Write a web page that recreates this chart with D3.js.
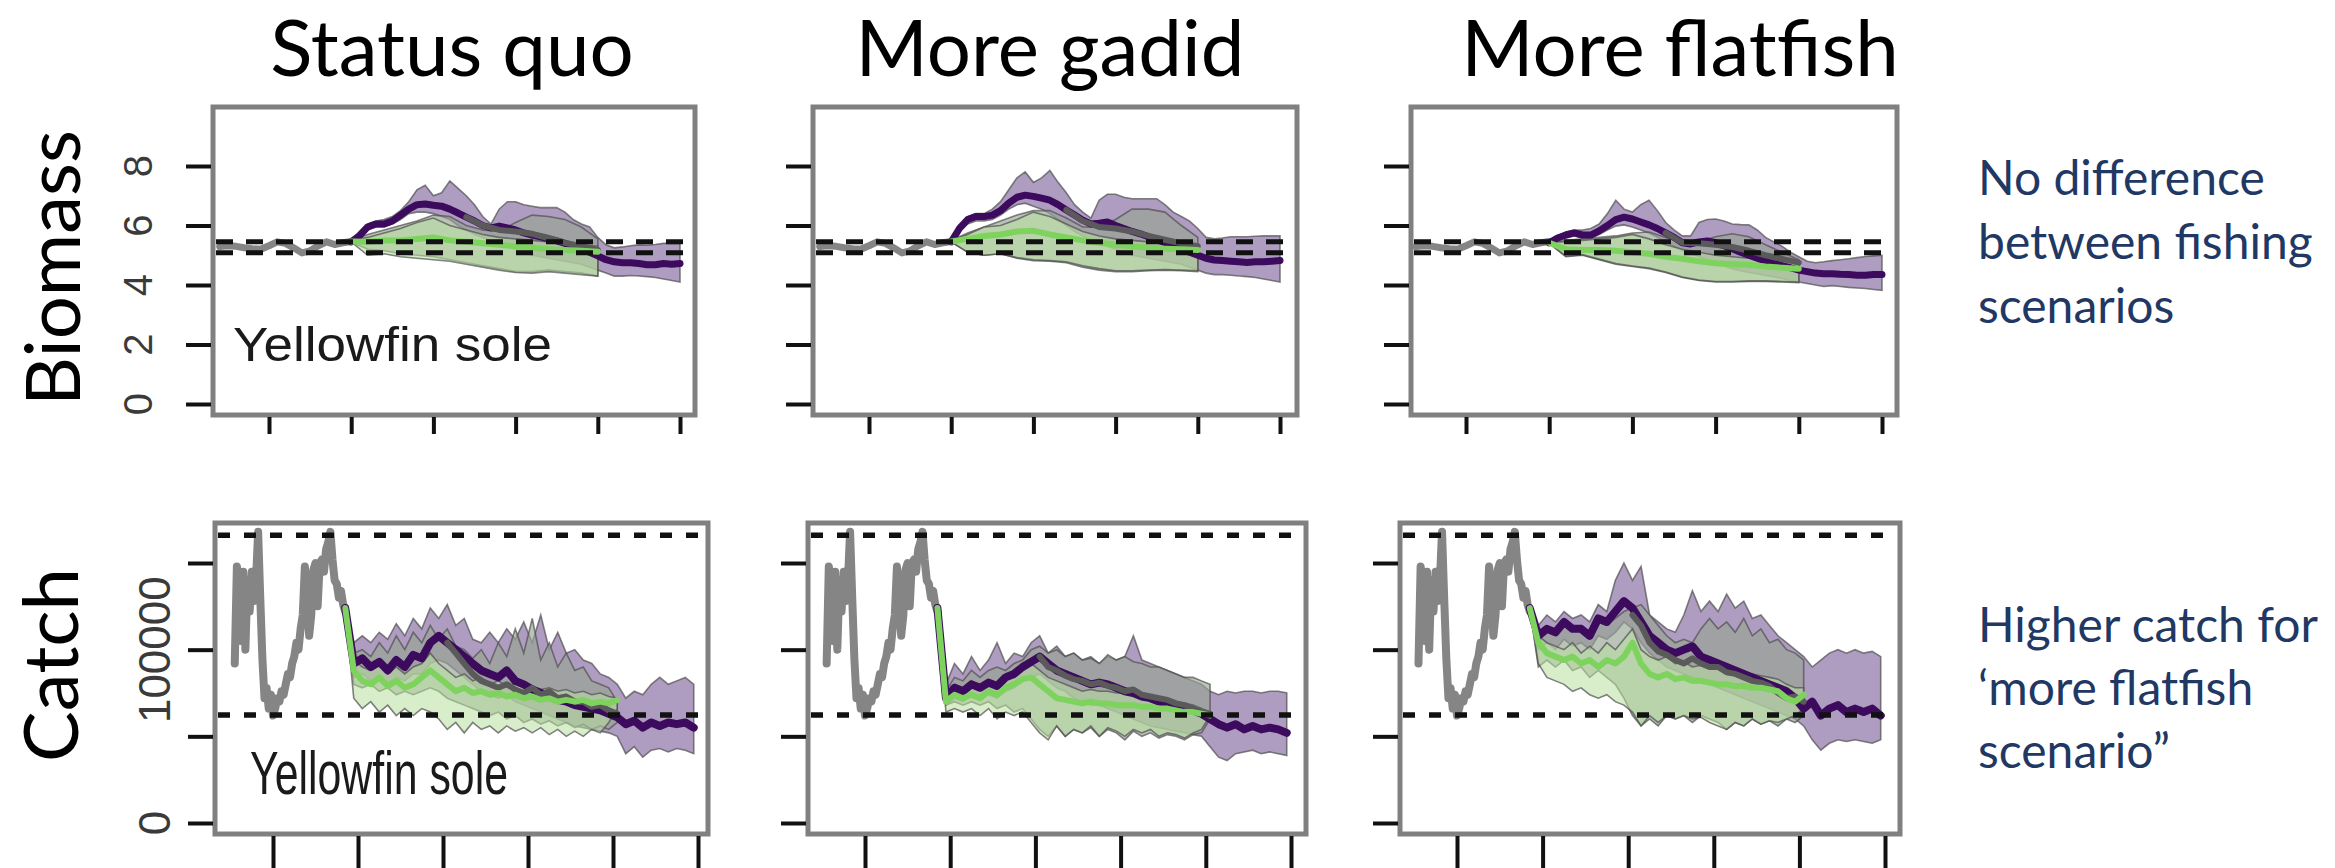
<!DOCTYPE html>
<html><head><meta charset="utf-8">
<script src="https://cdn.jsdelivr.net/npm/d3@7"></script>
<style>html,body{margin:0;padding:0;background:#fff;} svg{display:block}</style>
</head><body>
<svg id="chart" width="2335" height="868"></svg>
<script>
// ---------------- DATA ----------------
const scenarios = ["Status quo", "More gadid", "More flatfish"];
const rowLabels = ["Biomass", "Catch"];
const speciesLabel = "Yellowfin sole";
const noteBiomass = ["No difference", "between fishing", "scenarios"];
const noteCatch = ["Higher catch for", "\u2018more flatfish", "scenario\u201d"];

const xTickValues = [2000, 2020, 2040, 2060, 2080, 2100];
const bioTickValues = [0, 2, 4, 6, 8];
const bioTickLabels = ["0", "2", "4", "6", "8"];
const catchTickValues = [0, 50, 100, 150];            // thousands
const catchTickLabels = ["0", "", "100000", ""];
const bioRefLines = [5.45, 5.08];
const catchRefLines = [166, 62.3];                     // thousands

// Biomass
const bioHistYears = d3.range(1988, 2021, 2);
const bioHist = [5.29,5.32,5.3,5.25,5.22,5.2,5.32,5.45,5.4,5.25,5.08,5.15,5.32,5.45,5.36,5.42,5.46];
const bioPurpleYears = d3.range(2020, 2101, 2);
const bioEnsYears = d3.range(2020, 2081, 4);
const N = null;

const bioSQPurpleMean = [5.45,5.65,5.95,6.05,6.05,6.15,6.35,6.55,6.7,6.72,6.68,6.65,6.55,6.42,6.28,6.15,6.0,5.92,5.98,5.92,5.85,5.75,5.68,5.62,5.55,5.48,5.4,5.3,5.22,5.1,4.98,4.85,4.78,4.75,4.75,4.72,4.68,4.68,4.72,4.7,4.72];
const bioSQPurpleHi = [5.5,5.8,6.05,6.15,6.2,6.3,6.5,6.8,7.2,7.35,7.0,7.1,7.5,7.25,7.0,6.7,6.3,6.05,6.55,6.8,6.8,6.7,6.65,6.6,6.6,6.6,6.45,6.2,6.05,5.95,5.6,5.35,5.25,5.28,5.32,5.35,5.34,5.36,5.4,5.4,5.4];
const bioSQPurpleLo = [5.45,5.6,5.85,5.95,5.95,6.05,6.2,6.4,6.45,6.45,6.4,6.3,6.2,6.0,5.85,5.7,5.6,5.5,5.4,5.3,5.2,5.1,5.0,4.95,4.9,4.85,4.8,4.75,4.7,4.6,4.5,4.4,4.3,4.3,4.32,4.3,4.28,4.25,4.2,4.15,4.1];
const bioSQGreyHi = [5.5,5.7,5.85,6.0,6.15,6.35,6.3,6.0,5.85,5.8,6.1,6.35,6.3,6.2,5.95,5.55];
const bioSQGreyLo = [5.45,5.2,5.15,5.05,5.0,4.95,4.85,4.75,4.65,4.55,4.45,4.45,4.5,4.45,4.4,4.3];
const bioSQGreyMean = [N,N,N,N,N,N,N,6.28,6.0,5.85,5.8,5.72,5.58,5.42,5.3,5.18];
const bioSQGreenHi = [5.5,5.6,5.75,5.9,6.1,6.25,6.0,5.85,5.7,5.6,5.55,5.5,5.45,5.4,5.35,5.3];
const bioSQGreenLo = [5.45,5.0,5.05,4.95,4.9,4.85,4.8,4.7,4.6,4.5,4.42,4.4,4.45,4.4,4.35,4.3];
const bioSQGreenMean = [5.46,5.45,5.5,5.5,5.55,5.6,5.5,5.45,5.4,5.35,5.3,5.25,5.2,5.18,5.15,5.12];

const bioMGPurpleMean = [5.45,5.9,6.2,6.3,6.3,6.35,6.5,6.75,6.95,7.02,6.98,6.92,6.85,6.7,6.52,6.35,6.18,6.05,6.08,6.12,6.0,5.9,5.8,5.72,5.62,5.52,5.42,5.3,5.2,5.1,5.0,4.9,4.84,4.82,4.8,4.78,4.76,4.78,4.78,4.8,4.82];
const bioMGPurpleHi = [5.5,5.95,6.3,6.4,6.4,6.55,6.8,7.2,7.6,7.8,7.45,7.6,7.85,7.45,7.1,6.7,6.45,6.25,6.85,7.05,7.05,6.95,6.9,6.9,6.9,6.9,6.7,6.45,6.3,6.15,5.9,5.6,5.55,5.58,5.62,5.62,5.62,5.64,5.65,5.65,5.65];
const bioMGPurpleLo = [5.45,5.8,6.05,6.15,6.15,6.2,6.35,6.55,6.7,6.75,6.65,6.55,6.4,6.2,6.0,5.8,5.65,5.5,5.4,5.3,5.2,5.1,5.0,4.95,4.9,4.85,4.8,4.75,4.7,4.6,4.5,4.4,4.35,4.35,4.33,4.3,4.28,4.25,4.2,4.15,4.1];
const bioMGGreyHi = [5.5,5.75,5.95,6.15,6.35,6.5,6.5,6.25,5.95,5.95,6.2,6.55,6.55,6.45,6.0,5.6];
const bioMGGreyLo = [5.45,5.1,5.0,5.05,4.9,4.82,4.8,4.75,4.6,4.5,4.45,4.45,4.48,4.5,4.48,4.45];
const bioMGGreyMean = [N,N,N,N,N,N,N,6.52,6.15,5.95,5.9,5.8,5.65,5.52,5.4,5.3];
const bioMGGreenHi = [5.5,5.7,5.95,6.0,6.2,6.45,6.3,6.05,5.8,5.65,5.55,5.5,5.45,5.4,5.38,5.35];
const bioMGGreenLo = [5.45,5.1,5.0,5.05,4.92,4.85,4.82,4.78,4.65,4.55,4.48,4.48,4.5,4.52,4.5,4.48];
const bioMGGreenMean = [5.46,5.55,5.65,5.7,5.8,5.82,5.7,5.6,5.5,5.42,5.35,5.3,5.25,5.22,5.2,5.18];

const bioMFPurpleMean = [5.42,5.58,5.68,5.75,5.68,5.68,5.82,6.0,6.2,6.28,6.22,6.12,6.02,5.9,5.75,5.6,5.42,5.38,5.45,5.48,5.42,5.32,5.22,5.1,5.0,4.9,4.8,4.72,4.65,4.58,4.5,4.45,4.4,4.38,4.38,4.36,4.35,4.33,4.33,4.35,4.35];
const bioMFPurpleHi = [5.45,5.65,5.78,5.85,5.85,5.9,6.05,6.4,6.85,6.55,6.45,6.7,6.85,6.5,6.1,5.85,5.65,5.65,6.1,6.2,6.22,6.15,6.05,6.03,6.02,5.85,5.6,5.45,5.3,5.1,4.95,4.8,4.75,4.78,4.82,4.85,4.88,4.92,4.96,4.98,5.0];
const bioMFPurpleLo = [5.4,5.5,5.58,5.65,5.58,5.58,5.7,5.85,5.98,6.02,5.95,5.85,5.75,5.6,5.45,5.3,5.15,5.05,4.95,4.85,4.75,4.65,4.55,4.48,4.42,4.38,4.32,4.28,4.22,4.15,4.1,4.05,4.0,3.95,3.98,3.95,3.92,3.9,3.88,3.85,3.82];
const bioMFGreyHi = [5.45,5.5,5.55,5.6,5.65,5.75,5.78,5.6,5.45,5.45,5.62,5.72,5.62,5.35,5.1,4.85];
const bioMFGreyLo = [5.4,4.95,5.0,4.85,4.7,4.62,4.55,4.42,4.25,4.15,4.1,4.1,4.12,4.12,4.1,4.08];
const bioMFGreyMean = [N,N,N,N,N,N,N,5.75,5.42,5.4,5.35,5.28,5.15,5.0,4.88,4.75];
const bioMFGreenHi = [5.45,5.45,5.5,5.55,5.6,5.7,5.55,5.35,5.2,5.1,5.0,4.95,4.9,4.85,4.8,4.75];
const bioMFGreenLo = [5.4,4.97,5.02,4.87,4.72,4.64,4.57,4.44,4.27,4.17,4.12,4.12,4.14,4.14,4.12,4.1];
const bioMFGreenMean = [5.42,5.2,5.18,5.18,5.15,5.1,5.05,4.95,4.88,4.8,4.73,4.7,4.68,4.62,4.58,4.55];

// Catch (thousands)
const catchHistYears = d3.range(1991, 2017.01, 0.5);
const catchHist = [92,148,140,105,145,100,140,122,145,128,140,168,130,95,72,78,66,74,62,66,72,70,76,74,80,86,84,92,96,104,100,112,120,148,132,108,120,146,150,125,150,152,145,158,162,168,152,140,138,130,134,126,122];
const catchPurpleYears = d3.range(2017, 2100, 2);
const catchEnsYears = d3.range(2017, 2082, 2);

const catSQPurpleMean = [124,92,95,90,93,88,94,90,97,95,104,108,104,100,96,92,88,86,84,88,82,80,77,75,73,71,70,68,67,66,65,63,61,57,59,55,58,56,58,57,58,55];
const catSQPurpleHi = [124,104,108,104,110,106,115,108,118,112,124,118,126,114,118,106,104,110,104,112,106,116,104,120,100,110,98,100,94,92,86,84,80,72,76,74,80,84,80,82,84,80];
const catSQPurpleLo = [124,84,86,82,84,80,84,82,86,86,92,94,92,88,84,80,76,74,72,74,70,68,66,64,62,60,58,56,55,54,53,52,50,40,44,38,42,43,41,43,42,40];
const catSQGreyHi = [124,98,100,96,104,98,108,100,110,104,114,106,112,102,100,95,100,92,104,96,112,98,118,94,104,90,98,88,90,82,80,78,70];
const catSQGreyLo = [124,80,78,80,76,78,74,76,74,76,78,76,72,70,68,66,64,62,64,60,62,58,60,57,59,56,58,55,57,54,56,54,58];
const catSQGreyMean = [N,N,N,N,N,N,N,N,N,N,N,N,104,98,92,86,82,80,78,80,77,75,78,74,76,72,73,70,70,67,68,65,63];
const catSQGreenHi = [124,94,90,88,92,86,90,86,90,92,98,92,88,84,86,82,84,80,82,79,80,78,79,77,78,76,77,75,76,74,75,73,72];
const catSQGreenLo = [124,72,66,70,64,68,62,66,62,66,64,60,54,58,52,58,54,56,52,56,53,55,52,55,51,54,50,53,50,54,52,58,66];
const catSQGreenMean = [124,88,82,80,84,79,82,78,80,84,88,84,80,76,78,75,76,74,75,73,74,72,73,71,72,70,71,70,71,69,70,69,71];

const catMGPurpleMean = [124,72,78,76,80,78,81,79,84,86,90,93,96,92,88,86,84,82,80,81,80,78,76,75,73,72,70,69,67,66,65,63,60,57,55,57,54,56,54,55,54,52];
const catMGPurpleHi = [124,80,92,86,96,88,94,104,92,98,96,104,108,98,102,96,98,94,96,92,96,94,96,108,94,92,90,88,86,84,82,80,76,74,76,75,76,76,75,76,76,75];
const catMGPurpleLo = [124,68,72,70,74,72,74,72,76,78,82,84,86,82,78,76,72,70,68,68,66,64,62,60,58,56,55,54,53,52,51,50,44,38,36,40,41,42,40,41,40,39];
const catMGGreyHi = [124,76,84,82,88,84,88,90,88,92,94,100,102,98,100,96,98,94,95,92,97,94,96,93,92,90,90,88,86,84,84,82,80];
const catMGGreyLo = [124,68,70,68,70,68,70,66,68,64,66,60,54,50,56,50,54,52,55,50,54,52,48,53,50,52,49,51,50,48,51,52,60];
const catMGGreyMean = [N,N,N,N,N,N,N,N,N,N,N,N,96,90,88,85,83,82,80,81,79,78,76,77,74,73,72,71,69,68,66,64,63];
const catMGGreenHi = [124,74,80,78,82,78,82,80,86,88,90,92,88,84,82,80,78,76,77,76,76,75,75,74,74,73,72,71,70,69,68,66,64];
const catMGGreenLo = [124,64,66,64,66,62,66,60,64,62,64,58,52,48,56,50,54,52,56,50,55,53,50,54,52,54,50,52,51,49,52,54,62];
const catMGGreenMean = [124,70,74,72,74,72,76,74,78,80,83,84,80,76,72,71,70,69,70,69,69,68,68,68,67,67,66,66,65,64,64,63,62];

const catMFPurpleMean = [124,108,112,110,116,112,112,108,118,116,122,128,124,116,108,104,100,98,100,102,96,94,92,90,88,86,84,82,80,78,76,72,66,70,62,66,68,64,66,64,66,62];
const catMFPurpleHi = [124,114,120,116,122,118,120,116,126,122,140,150,140,148,120,116,112,110,120,134,122,128,122,132,124,128,118,120,114,108,104,100,96,90,94,98,100,98,100,98,99,96];
const catMFPurpleLo = [124,100,104,100,106,102,104,100,108,106,110,116,112,104,98,94,90,88,86,84,82,80,78,76,74,72,70,68,66,64,62,60,56,48,42,46,48,47,48,47,46,48];
const catMFGreyHi = [124,110,112,110,114,112,114,110,116,114,118,122,124,126,120,114,108,104,106,104,112,118,112,116,110,118,108,112,104,106,100,98,94];
const catMFGreyLo = [124,90,94,90,94,88,90,84,88,84,80,72,62,56,60,56,62,60,62,58,62,60,58,54,58,56,60,57,59,56,60,58,62];
const catMFGreyMean = [N,N,N,N,N,N,N,N,N,N,N,N,120,114,104,99,97,94,92,95,92,90,90,87,86,84,82,81,79,75,72,73,70];
const catMFGreenHi = [124,108,104,102,100,104,98,102,98,104,100,106,112,100,96,94,96,92,93,90,91,89,89,88,87,87,86,85,84,83,80,78,78];
const catMFGreenLo = [124,92,84,82,80,76,78,74,72,74,70,68,64,56,62,58,62,60,62,60,61,58,56,54,58,56,60,57,59,58,60,62,66];
const catMFGreenMean = [124,104,98,96,94,96,92,94,90,94,92,96,104,92,86,84,86,83,84,82,82,81,80,80,79,79,78,78,77,76,72,70,74];

// ---------------- LAYOUT / STYLE ----------------
const bioCols = [{left:213,right:695,t1:269,t6:680},{left:813,right:1297,t1:869,t6:1280},{left:1411,right:1897,t1:1466,t6:1882}];
const catCols = [{left:215,right:708,t1:273,t6:698},{left:808,right:1306,t1:865,t6:1291},{left:1400,right:1900,t1:1457,t6:1885}];

const C = {
  purpleFill:"#a48eb8", greyFill:"#96a492", greenFill:"#b8e0a0", outline:"#4f4f4f",
  purpleLine:"#3d0b5e", greyLine:"#5a5a5a", greenLine:"#7ed35e", hist:"#858585",
  box:"#808080", tick:"#111", note:"#1f3864"
};

const rows = [
  { box:{top:107,bottom:415}, cols:bioCols, y:d3.scaleLinear().domain([0,8]).range([404,166]),
    tickVals:bioTickValues, tickLabels:bioTickLabels, labelX:152, labelSize:40,
    refs:bioRefLines, dash:"17 13", dashW:5, yTickLen:25, xTickLen:17,
    histYears:bioHistYears, hist:bioHist, histW:7, purpleW:7,
    purpleYears:bioPurpleYears, ensYears:bioEnsYears,
    species:{x:233,y:361,size:48,len:319},
    panels:[
      {purple:{mean:bioSQPurpleMean,lo:bioSQPurpleLo,hi:bioSQPurpleHi},grey:{mean:bioSQGreyMean,lo:bioSQGreyLo,hi:bioSQGreyHi},green:{mean:bioSQGreenMean,lo:bioSQGreenLo,hi:bioSQGreenHi}},
      {purple:{mean:bioMGPurpleMean,lo:bioMGPurpleLo,hi:bioMGPurpleHi},grey:{mean:bioMGGreyMean,lo:bioMGGreyLo,hi:bioMGGreyHi},green:{mean:bioMGGreenMean,lo:bioMGGreenLo,hi:bioMGGreenHi}},
      {purple:{mean:bioMFPurpleMean,lo:bioMFPurpleLo,hi:bioMFPurpleHi},grey:{mean:bioMFGreyMean,lo:bioMFGreyLo,hi:bioMFGreyHi},green:{mean:bioMFGreenMean,lo:bioMFGreenLo,hi:bioMFGreenHi}}
    ]},
  { box:{top:523,bottom:834}, cols:catCols, y:d3.scaleLinear().domain([0,150]).range([823,563]),
    tickVals:catchTickValues, tickLabels:catchTickLabels, labelX:170, labelSize:44,
    refs:catchRefLines, dash:"12 14", dashW:5.5, yTickLen:25, xTickLen:34,
    histYears:catchHistYears, hist:catchHist, histW:8, purpleW:8,
    purpleYears:catchPurpleYears, ensYears:catchEnsYears,
    species:{x:250,y:794,size:61,len:258},
    panels:[
      {purple:{mean:catSQPurpleMean,lo:catSQPurpleLo,hi:catSQPurpleHi},grey:{mean:catSQGreyMean,lo:catSQGreyLo,hi:catSQGreyHi},green:{mean:catSQGreenMean,lo:catSQGreenLo,hi:catSQGreenHi}},
      {purple:{mean:catMGPurpleMean,lo:catMGPurpleLo,hi:catMGPurpleHi},grey:{mean:catMGGreyMean,lo:catMGGreyLo,hi:catMGGreyHi},green:{mean:catMGGreenMean,lo:catMGGreenLo,hi:catMGGreenHi}},
      {purple:{mean:catMFPurpleMean,lo:catMFPurpleLo,hi:catMFPurpleHi},grey:{mean:catMFGreyMean,lo:catMFGreyLo,hi:catMFGreyHi},green:{mean:catMFGreenMean,lo:catMFGreenLo,hi:catMFGreenHi}}
    ]}
];

const svg = d3.select("#chart");
svg.append("rect").attr("width",2335).attr("height",868).attr("fill","#fff");

function drawPanel(row, ci) {
  const col = row.cols[ci], d = row.panels[ci], y = row.y;
  const x = d3.scaleLinear().domain([xTickValues[0], xTickValues[xTickValues.length-1]]).range([col.t1, col.t6]);
  const g = svg.append("g");
  const ens = [
    {k:"purple", years:row.purpleYears, fill:C.purpleFill, op:0.88},
    {k:"grey", years:row.ensYears, fill:C.greyFill, op:0.65},
    {k:"green", years:row.ensYears, fill:C.greenFill, op:0.55}
  ];
  const area = d3.area().x(p=>x(p.yr)).y0(p=>y(p.lo)).y1(p=>y(p.hi));
  ens.forEach(e => {
    const s = d[e.k];
    g.append("path").datum(e.years.map((yr,i)=>({yr, lo:s.lo[i], hi:s.hi[i]})))
      .attr("d", area).attr("fill", e.fill).attr("fill-opacity", e.op)
      .attr("stroke", C.outline).attr("stroke-width", 1.6).attr("stroke-opacity", 0.7);
  });
  const line = d3.line().defined(p=>p.v!=null).x(p=>x(p.yr)).y(p=>y(p.v));
  g.append("path").datum(row.histYears.map((yr,i)=>({yr, v:row.hist[i]})))
    .attr("d", line).attr("fill","none").attr("stroke", C.hist).attr("stroke-width", row.histW)
    .attr("stroke-linejoin","round").attr("stroke-linecap","round");
  [["purple", C.purpleLine, row.purpleW], ["grey", C.greyLine, 6], ["green", C.greenLine, 6]].forEach(([k, col2, w]) => {
    const yrs = k === "purple" ? row.purpleYears : row.ensYears;
    g.append("path").datum(yrs.map((yr,i)=>({yr, v:d[k].mean[i]})))
      .attr("d", line).attr("fill","none").attr("stroke", col2).attr("stroke-width", w)
      .attr("stroke-linejoin","round").attr("stroke-linecap","round");
  });
  row.refs.forEach(v => {
    g.append("line").attr("x1", col.left+3).attr("x2", col.right-3).attr("y1", y(v)).attr("y2", y(v))
      .attr("stroke","#111").attr("stroke-width", row.dashW).attr("stroke-dasharray", row.dash);
  });
  g.append("rect").attr("x", col.left).attr("y", row.box.top)
    .attr("width", col.right-col.left).attr("height", row.box.bottom-row.box.top)
    .attr("fill","none").attr("stroke", C.box).attr("stroke-width", 5);
  const ya = g.append("g").attr("transform", `translate(${col.left-2},0)`)
    .call(d3.axisLeft(y).tickValues(row.tickVals).tickSize(row.yTickLen).tickFormat(""));
  ya.select(".domain").remove();
  ya.selectAll("line").attr("stroke", C.tick).attr("stroke-width", 4);
  const xa = g.append("g").attr("transform", `translate(0,${row.box.bottom+2})`)
    .call(d3.axisBottom(x).tickValues(xTickValues).tickSize(row.xTickLen).tickFormat(""));
  xa.select(".domain").remove();
  xa.selectAll("line").attr("stroke", C.tick).attr("stroke-width", 4);
  if (ci === 0) {
    row.tickVals.forEach((v,i) => {
      if (!row.tickLabels[i]) return;
      g.append("text").attr("transform", `translate(${row.labelX},${y(v)}) rotate(-90)`)
        .attr("text-anchor","middle").attr("font-family","'Liberation Sans', Arial, sans-serif")
        .attr("font-size", row.labelSize).attr("fill","#3a3a3a").text(row.tickLabels[i]);
    });
    g.append("text").attr("x", row.species.x).attr("y", row.species.y)
      .attr("font-family","'Liberation Sans', Arial, sans-serif").attr("font-size", row.species.size)
      .attr("fill","#1a1a1a").attr("textLength", row.species.len).attr("lengthAdjust","spacingAndGlyphs")
      .text(speciesLabel);
  }
}

rows.forEach(row => [0,1,2].forEach(ci => drawPanel(row, ci)));

// Column titles
const titleX = [452, 1050, 1680];
scenarios.forEach((s,i) => {
  svg.append("text").attr("x", titleX[i]).attr("y", 76).attr("text-anchor","middle")
    .attr("font-family","Lato, 'Open Sans', sans-serif").attr("font-size", 78).attr("fill","#000").text(s);
});
// Row labels
[[rowLabels[0], 80, 268], [rowLabels[1], 78, 665]].forEach(([t, x0, y0]) => {
  svg.append("text").attr("transform", `translate(${x0},${y0}) rotate(-90)`).attr("text-anchor","middle")
    .attr("font-family","Lato, 'Open Sans', sans-serif").attr("font-size", 76).attr("fill","#000").text(t);
});
// Notes
[[noteBiomass, [195, 259, 323]], [noteCatch, [642, 705, 768]]].forEach(([lines, ys]) => {
  lines.forEach((t,i) => svg.append("text").attr("x", 1978).attr("y", ys[i])
    .attr("font-family","Lato, 'Open Sans', sans-serif").attr("font-size", 48).attr("fill", C.note).text(t));
});
</script></body></html>
